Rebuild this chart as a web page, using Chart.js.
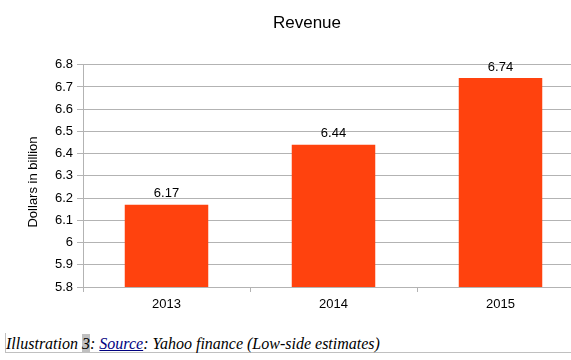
<!DOCTYPE html>
<html>
<head>
<meta charset="utf-8">
<script src="https://cdn.jsdelivr.net/npm/chart.js@4"></script>
<style>
  html, body { margin:0; padding:0; background:#fff; overflow:hidden; width:571px; height:360px; }
  #wrap { position:absolute; left:0; top:0; width:614px; height:320px; }
  #caption { position:absolute; left:6px; top:334px; font-family:"Liberation Serif", serif; font-style:italic; font-size:16px; line-height:18px; color:#000; white-space:nowrap; }
  #caption .hl { background:#c0c0c0; display:inline-block; line-height:19px; }
  #caption a { color:#000080; text-decoration:underline; }
  #hline { position:absolute; left:5px; top:352px; width:566px; height:1px; background:#c0c0c0; }
  #vline { position:absolute; left:5px; top:333px; width:1px; height:20px; background:#c0c0c0; }
</style>
</head>
<body>
<div id="wrap"><canvas id="c" width="614" height="320"></canvas></div>
<div id="vline"></div>
<div id="hline"></div>
<div id="caption">Illustration <span class="hl">3</span>: <a>Source</a>: Yahoo finance (Low-side estimates)</div>
<script>
const categories = ["2013", "2014", "2015"];
const revenue = [6.17, 6.44, 6.74];
const yTicks = [5.8, 5.9, 6.0, 6.1, 6.2, 6.3, 6.4, 6.5, 6.6, 6.7, 6.8];

const FONT = "'Liberation Sans', Arial, sans-serif";
const GRID = "#b3b3b3";

const valueLabels = {
  id: 'valueLabels',
  afterDatasetsDraw(chart) {
    const ctx = chart.ctx;
    const meta = chart.getDatasetMeta(0);
    ctx.save();
    ctx.font = "13px " + FONT;
    ctx.fillStyle = "#000";
    ctx.textAlign = "center";
    ctx.textBaseline = "middle";
    meta.data.forEach((bar, i) => {
      ctx.fillText(revenue[i].toFixed(2), bar.x, bar.y - 11);
    });
    ctx.restore();
  }
};

const yTitle = {
  id: 'yTitle',
  afterDraw(chart) {
    const ctx = chart.ctx;
    ctx.save();
    ctx.font = "13px " + FONT;
    ctx.fillStyle = "#000";
    ctx.textAlign = "center";
    ctx.textBaseline = "middle";
    ctx.translate(33, 182);
    ctx.rotate(-Math.PI / 2);
    ctx.fillText("Dollars in billion", 0, 0);
    ctx.restore();
  }
};

new Chart(document.getElementById('c'), {
  type: 'bar',
  data: {
    labels: categories,
    datasets: [{
      data: revenue,
      backgroundColor: '#ff420e',
      borderWidth: 0,
      categoryPercentage: 1.0,
      barPercentage: 0.5
    }]
  },
  options: {
    responsive: false,
    animation: false,
    devicePixelRatio: 1,
    layout: { padding: 0 },
    plugins: {
      legend: { display: false },
      tooltip: { enabled: false },
      title: {
        display: true,
        text: 'Revenue',
        color: '#000',
        font: { family: FONT, size: 17, weight: 'normal', lineHeight: 1.2 },
        padding: { top: 13, bottom: 31.3 }
      }
    },
    scales: {
      x: {
        offset: true,
        grid: { display: true, drawOnChartArea: false, drawTicks: true, tickLength: 5, color: GRID, offset: true },
        border: { color: GRID },
        ticks: { color: '#000', font: { family: FONT, size: 13 }, padding: 5 },
        afterFit(scale) { scale.height = 33; }
      },
      y: {
        min: 5.8,
        max: 6.8,
        afterBuildTicks(scale) { scale.ticks = yTicks.map(v => ({ value: v })); },
        grid: { color: GRID, tickLength: 6, drawTicks: true },
        border: { color: GRID },
        ticks: {
          color: '#000',
          font: { family: FONT, size: 13 },
          padding: 4,
          callback: (v) => String(Number(Number(v).toFixed(1)))
        },
        afterFit(scale) { scale.width = 83; }
      },
      yRight: {
        position: 'right',
        min: 5.8,
        max: 6.8,
        grid: { display: false, drawOnChartArea: false, drawTicks: false },
        border: { display: false },
        ticks: { display: false },
        afterFit(scale) { scale.width = 30; }
      }
    }
  },
  plugins: [valueLabels, yTitle]
});
</script>
</body>
</html>
